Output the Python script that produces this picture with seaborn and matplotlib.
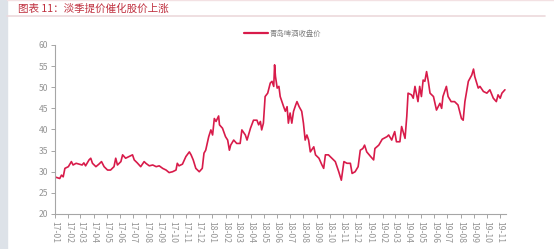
import matplotlib
matplotlib.use("Agg")
import matplotlib.pyplot as plt
import matplotlib.dates as mdates
import pandas as pd
import seaborn as sns

dates = [
    "2017-01-03", "2017-01-12", "2017-01-16", "2017-01-20", "2017-01-24", "2017-02-01", "2017-02-08",
    "2017-02-12", "2017-02-19", "2017-02-26", "2017-03-05", "2017-03-09", "2017-03-13", "2017-03-21",
    "2017-03-25", "2017-03-29", "2017-04-06", "2017-04-13", "2017-04-19", "2017-04-25", "2017-05-03",
    "2017-05-10", "2017-05-18", "2017-05-22", "2017-05-26", "2017-06-03", "2017-06-07", "2017-06-14",
    "2017-06-22", "2017-06-30", "2017-07-04", "2017-07-11", "2017-07-19", "2017-07-27", "2017-07-31",
    "2017-08-08", "2017-08-16", "2017-08-24", "2017-08-31", "2017-09-08", "2017-09-16", "2017-09-23",
    "2017-10-01", "2017-10-09", "2017-10-12", "2017-10-16", "2017-10-24", "2017-11-01", "2017-11-09",
    "2017-11-13", "2017-11-18", "2017-11-24", "2017-12-02", "2017-12-09", "2017-12-13", "2017-12-17",
    "2017-12-24", "2017-12-29",
    "2018-01-02", "2018-01-06", "2018-01-10", "2018-01-16", "2018-01-18", "2018-01-25", "2018-02-01",
    "2018-02-06", "2018-02-10", "2018-02-13", "2018-02-20", "2018-02-27", "2018-03-07", "2018-03-11",
    "2018-03-19", "2018-03-23", "2018-03-31", "2018-04-07", "2018-04-15", "2018-04-19", "2018-04-23",
    "2018-04-26", "2018-04-30", "2018-05-04", "2018-05-10", "2018-05-16", "2018-05-20", "2018-05-24",
    "2018-05-26", "2018-05-28", "2018-06-01", "2018-06-05", "2018-06-08", "2018-06-12", "2018-06-16",
    "2018-06-20", "2018-06-24", "2018-06-27", "2018-07-01", "2018-07-05", "2018-07-09", "2018-07-14",
    "2018-07-17", "2018-07-22", "2018-07-28", "2018-08-01", "2018-08-05", "2018-08-09", "2018-08-13",
    "2018-08-17", "2018-08-25", "2018-08-29", "2018-09-06", "2018-09-13", "2018-09-17", "2018-09-21",
    "2018-09-28", "2018-10-06", "2018-10-14", "2018-10-18", "2018-10-22", "2018-10-28", "2018-11-03",
    "2018-11-10", "2018-11-18", "2018-11-22", "2018-11-29", "2018-12-06", "2018-12-11", "2018-12-17",
    "2018-12-21", "2018-12-26",
    "2019-01-04", "2019-01-11", "2019-01-14", "2019-01-23", "2019-01-31", "2019-02-11", "2019-02-15",
    "2019-02-22", "2019-02-26", "2019-03-01", "2019-03-05", "2019-03-13", "2019-03-17", "2019-03-25",
    "2019-03-29", "2019-04-01", "2019-04-09", "2019-04-13", "2019-04-17", "2019-04-24", "2019-04-28",
    "2019-05-02", "2019-05-06", "2019-05-10", "2019-05-14", "2019-05-18", "2019-05-22", "2019-05-30",
    "2019-06-06", "2019-06-14", "2019-06-18", "2019-06-21", "2019-06-29", "2019-07-03", "2019-07-10",
    "2019-07-18", "2019-07-26", "2019-08-03", "2019-08-07", "2019-08-11", "2019-08-19", "2019-08-27",
    "2019-08-31", "2019-09-03", "2019-09-11", "2019-09-15", "2019-09-23", "2019-10-01", "2019-10-08",
    "2019-10-16", "2019-10-23", "2019-10-27", "2019-11-01", "2019-11-05", "2019-11-12",
]
close_price = [
    28.7, 28.4, 29.2, 28.8, 30.8, 31.2, 32.4,
    31.6, 32.0, 31.8, 31.6, 32.1, 31.4, 32.8,
    33.2, 32.0, 31.2, 31.8, 32.4, 31.2, 30.4,
    30.4, 31.2, 33.2, 31.6, 32.4, 34.0, 33.2,
    33.6, 34.0, 32.8, 32.1, 31.2, 32.4, 32.0,
    31.4, 31.6, 31.2, 31.4, 30.8, 30.4, 29.8,
    30.0, 30.4, 32.0, 31.4, 31.8, 33.6, 34.7,
    34.0, 32.8, 30.8, 30.0, 30.8, 34.4, 35.1,
    38.3, 39.9,
    38.7, 42.6, 41.9, 43.2, 41.1, 40.3, 38.3,
    37.5, 35.1, 36.3, 37.5, 36.7, 36.7, 39.9,
    38.7, 37.5, 40.3, 42.2, 42.2, 41.1, 41.9,
    39.9, 41.5, 47.8, 48.6, 51.0, 51.4, 50.2,
    55.3, 52.6, 49.8, 50.2, 47.8, 46.6, 45.4,
    44.3, 45.4, 41.5, 43.9, 41.5, 44.3, 45.8,
    46.6, 45.4, 44.3, 41.5, 37.5, 38.7, 37.5,
    34.7, 35.9, 34.0, 33.2, 31.6, 30.8, 34.0,
    34.0, 33.2, 32.4, 31.2, 30.0, 28.0, 32.4,
    32.0, 32.0, 29.6, 30.0, 31.2, 35.1, 35.5,
    36.3, 34.7,
    33.6, 32.8, 35.5, 36.3, 37.7, 38.3, 38.7,
    37.5, 38.7, 39.5, 37.1, 37.1, 40.7, 37.9,
    43.1, 48.6, 48.2, 47.4, 50.2, 46.6, 50.2,
    47.8, 51.7, 51.4, 53.7, 51.4, 48.6, 47.8,
    44.6, 46.2, 45.0, 47.8, 50.2, 47.8, 46.6,
    46.6, 45.8, 42.6, 42.2, 46.6, 51.4, 52.9,
    54.3, 52.5, 49.8, 50.2, 49.0, 48.6, 49.4,
    47.4, 46.6, 48.2, 47.4, 48.6, 49.4,
]
series_label = "青岛啤酒收盘价"
title_text = "图表 11：淡季提价催化股价上涨"
y_ticks = [20, 25, 30, 35, 40, 45, 50, 55, 60]

df = pd.DataFrame({"date": pd.to_datetime(dates), "close": close_price})

sns.set_theme(style="white")
plt.rcParams["font.family"] = ["Noto Sans CJK SC", "DejaVu Sans"]

fig = plt.figure(figsize=(5.54, 2.49), dpi=100)
ax = fig.add_axes([0.0993, 0.1406, 0.8137, 0.6787])

line_color = "#d81b4a"
sns.lineplot(data=df, x="date", y="close", ax=ax, color=line_color, linewidth=1.2,
             label=series_label)

ax.set_ylim(20, 60)
ax.set_yticks(y_ticks)
ax.set_xlim(pd.Timestamp("2017-01-01"), pd.Timestamp("2019-11-14"))
ax.xaxis.set_major_locator(mdates.MonthLocator())
ax.xaxis.set_major_formatter(mdates.DateFormatter("%y-%m"))
ax.set_xlabel("")
ax.set_ylabel("")

grey = "#949494"
for s in ["top", "right"]:
    ax.spines[s].set_visible(False)
for s in ["left", "bottom"]:
    ax.spines[s].set_color("#a6a6a6")
    ax.spines[s].set_linewidth(0.8)
ax.tick_params(axis="both", which="major", direction="out", length=3, width=0.7,
               color="#a6a6a6", labelcolor=grey, labelsize=6.2, pad=2,
               left=True, bottom=True)
plt.setp(ax.get_xticklabels(), rotation=270, ha="center", va="top")

leg = ax.legend(loc="center", bbox_to_anchor=(0.505, 1.065), frameon=False,
                fontsize=5.3, handlelength=3.2, handletextpad=0.3)
for t in leg.get_texts():
    t.set_color("#808080")
for h in leg.get_lines():
    h.set_linewidth(1.6)

# page decorations
fig.patches.append(plt.Rectangle((0, 0), 7 / 554, 1, transform=fig.transFigure,
                                 color="#dde2e8", zorder=0))
fig.lines.append(plt.Line2D([7 / 554, 545 / 554], [1 - 16.5 / 249, 1 - 16.5 / 249],
                            transform=fig.transFigure, color="#ecd9dc", linewidth=1.2))
fig.lines.append(plt.Line2D([7 / 554, 1], [1 - 0.5 / 249, 1 - 0.5 / 249],
                            transform=fig.transFigure, color="#f3e1e3", linewidth=1))
fig.text(18 / 554, 1 - 9 / 249, title_text, color="#c0303f", fontsize=7.6,
         fontweight="medium", ha="left", va="center")

fig.savefig("out.png", dpi=100)
